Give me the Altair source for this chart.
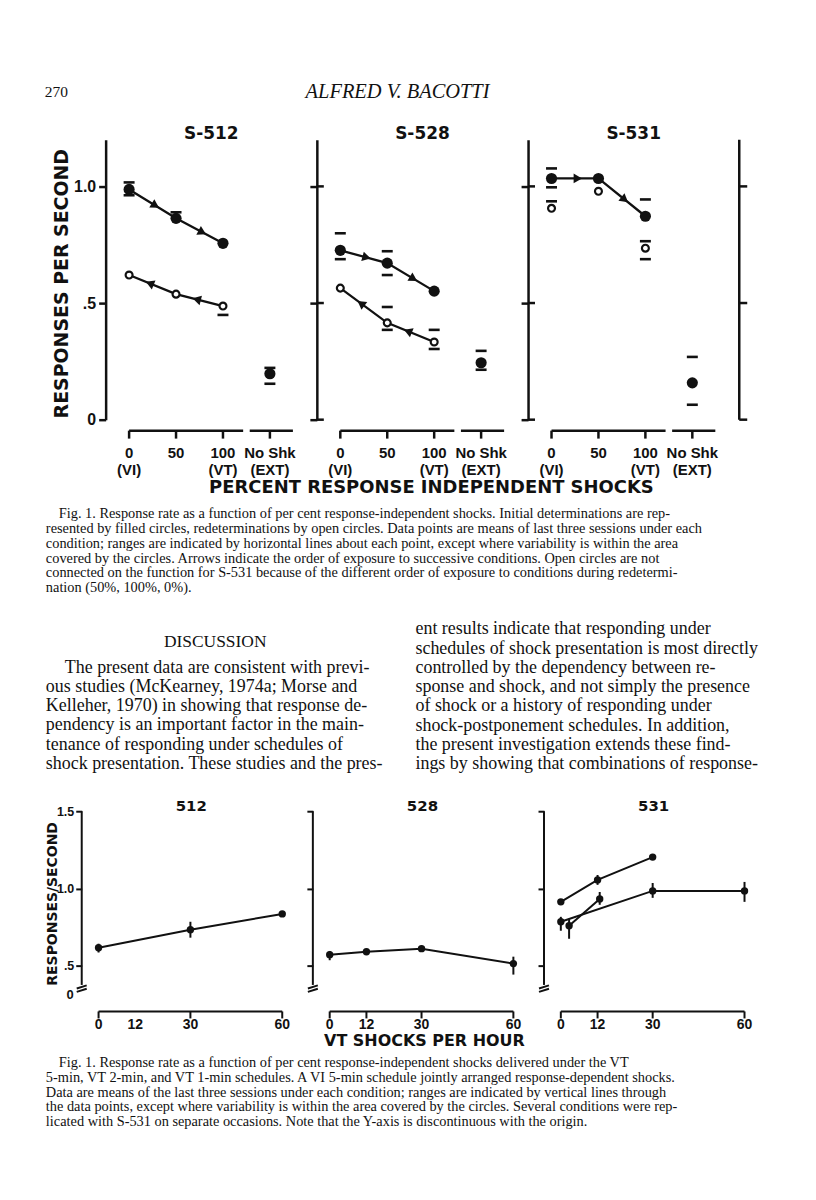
import math
import altair as alt
import pandas as pd

# ---------------- Figure 1 data (responses per second) ----------------
conditions = ["0", "50", "100", "No Shk"]
condition_sub = ["(VI)", "", "(VT)", "(EXT)"]
subjects1 = ["S-512", "S-528", "S-531"]

s512_filled = [0.987, 0.863, 0.756, 0.197]
s512_filled_hi = [1.017, 0.889, None, 0.222]
s512_filled_lo = [0.962, None, None, 0.154]
s512_open = [0.620, 0.538, 0.487, None]
s512_open_hi = [None, None, None, None]
s512_open_lo = [None, None, 0.449, None]

s528_filled = [0.726, 0.671, 0.551, 0.244]
s528_filled_hi = [0.799, 0.722, None, 0.295]
s528_filled_lo = [0.688, 0.620, None, 0.214]
s528_open = [0.564, 0.415, 0.333, None]
s528_open_hi = [None, 0.483, 0.385, None]
s528_open_lo = [None, 0.385, 0.303, None]

s531_filled = [1.034, 1.034, 0.872, 0.158]
s531_filled_hi = [1.077, None, 0.944, 0.269]
s531_filled_lo = [0.996, None, None, 0.064]
s531_open = [0.906, 0.979, 0.735, None]
s531_open_hi = [0.936, None, 0.765, None]
s531_open_lo = [None, None, 0.688, None]

fig1_ticks = [0, 0.5, 1.0]

# ---------------- Figure 2 data (responses/second vs VT shocks per hour) ----------------
subjects2 = ["512", "528", "531"]
shock_ticks_512 = [0, 30, 60]
shock_ticks = [0, 12, 30, 60]
shock_labels = ["0", "12", "30", "60"]

r512_x = [0, 30, 60]
r512_y = [0.616, 0.732, 0.835]
r512_lo = [0.585, 0.681, None]
r512_hi = [0.642, 0.784, None]

r528_x = [0, 12, 30, 60]
r528_y = [0.571, 0.590, 0.610, 0.513]
r528_lo = [0.535, None, None, 0.442]
r528_hi = [0.595, None, 0.635, 0.558]

r531a_x = [0, 12, 30]
r531a_y = [0.913, 1.055, 1.203]
r531a_lo = [None, 1.023, None]
r531a_hi = [None, 1.087, None]

r531b_x = [0, 30, 60]
r531b_y = [0.784, 0.984, 0.984]
r531b_lo = [0.726, 0.939, 0.913]
r531b_hi = [0.816, 1.035, 1.042]

r531c_x = [2.7, 12.7]
r531c_y = [0.758, 0.932]
r531c_lo = [0.674, 0.894]
r531c_hi = [0.803, 0.977]

fig2_ticks = [0.5, 1.0, 1.5]

# ---------------- page text ----------------
header_page = "270"
header_author = "ALFRED V. BACOTTI"
fig1_xtitle = "PERCENT RESPONSE INDEPENDENT SHOCKS"
fig1_ytitle = "RESPONSES PER SECOND"
fig2_xtitle = "VT  SHOCKS PER HOUR"
fig2_ytitle = "RESPONSES/SECOND"

caption1 = [
    "Fig. 1. Response rate as a function of per cent response-independent shocks. Initial determinations are rep-",
    "resented by filled circles, redeterminations by open circles. Data points are means of last three sessions under each",
    "condition; ranges are indicated by horizontal lines about each point, except where variability is within the area",
    "covered by the circles. Arrows indicate the order of exposure to successive conditions. Open circles are not",
    "connected on the function for S-531 because of the different order of exposure to conditions during redetermi-",
    "nation (50%, 100%, 0%).",
]
discussion_head = "DISCUSSION"
body_left = [
    "The present data are consistent with previ-",
    "ous studies (McKearney, 1974a; Morse and",
    "Kelleher, 1970) in showing that response de-",
    "pendency is an important factor in the main-",
    "tenance of responding under schedules of",
    "shock presentation. These studies and the pres-",
]
body_right = [
    "ent results indicate that responding under",
    "schedules of shock presentation is most directly",
    "controlled by the dependency between re-",
    "sponse and shock, and not simply the presence",
    "of shock or a history of responding under",
    "shock-postponement schedules. In addition,",
    "the present investigation extends these find-",
    "ings by showing that combinations of response-",
]
caption2 = [
    "Fig. 1. Response rate as a function of per cent response-independent shocks delivered under the VT",
    "5-min, VT 2-min, and VT 1-min schedules. A VI 5-min schedule jointly arranged response-dependent shocks.",
    "Data are means of the last three sessions under each condition; ranges are indicated by vertical lines through",
    "the data points, except where variability is within the area covered by the circles. Several conditions were rep-",
    "licated with S-531 on separate occasions. Note that the Y-axis is discontinuous with the origin.",
]

SERIF = "Liberation Serif"
SANS = "DejaVu Sans"
LSANS = "Liberation Sans"
INK = "#111111"

# ---------------- helpers ----------------
def pts(xs, ys):
    return pd.DataFrame([{"x": a, "y": b} for a, b in zip(xs, ys) if b is not None])


def one_row():
    return pd.DataFrame({"a": [0]})


def text_block(lines, x0, y0, lead, indent_first=0, align="left", **style):
    xs = [x0 + (indent_first if i == 0 else 0) for i in range(len(lines))]
    ys = [y0 + i * lead for i in range(len(lines))]
    df = pd.DataFrame({"t": lines, "px": xs, "py": ys})
    return alt.Chart(df).mark_text(align=align, baseline="middle", color=INK, **style).encode(
        x=alt.X("px:Q", scale=None, axis=None),
        y=alt.Y("py:Q", scale=None, axis=None),
        text="t:N",
    )


def spacer(w, h):
    return alt.Chart(one_row()).mark_point(opacity=0).encode(
        x=alt.value(0), y=alt.value(0)).properties(width=w, height=h)


# ---------------- Figure 1 panels ----------------
W1, H1 = 212, 281
XD1 = [-0.5, 4.0]
YD1 = [0, 1.2]
XS1 = alt.Scale(domain=XD1, nice=False, zero=False)
YS1 = alt.Scale(domain=YD1, nice=False, zero=False)
PX1 = W1 / (XD1[1] - XD1[0])
PY1 = H1 / (YD1[1] - YD1[0])
LW1 = 2.5


def y_enc1(labels):
    ax = alt.Axis(values=fig1_ticks, labels=labels, grid=False, title=None,
                  labelExpr="datum.value == 1 ? '1.0' : (datum.value == 0.5 ? '.5' : '0')",
                  tickSize=7, tickWidth=LW1, tickColor=INK, domainWidth=LW1, domainColor=INK,
                  labelFont=LSANS, labelFontSize=16, labelFontWeight="bold", labelColor=INK,
                  labelPadding=3)
    return alt.Y("y:Q", scale=YS1, axis=ax)


def x_enc1():
    return alt.X("x:Q", scale=XS1, axis=None)


def arrow_rows(xs, ys, reverse):
    rows = []
    seq = list(zip(xs, ys))
    if reverse:
        seq = seq[::-1]
    for (x0, y0), (x1, y1) in zip(seq[:-1], seq[1:]):
        f = 0.56
        dx = (x1 - x0) * PX1
        dy = -(y1 - y0) * PY1
        ang = math.degrees(math.atan2(dy, dx)) % 360
        rows.append({"x": x0 + f * (x1 - x0), "y": y0 + f * (y1 - y0), "ang": ang})
    return pd.DataFrame(rows)


def fig1_panel(title, filled, f_hi, f_lo, opn, o_hi, o_lo, connect_open, left_labels,
               inner_ticks, right_line):
    idx = list(range(len(conditions)))
    Y = y_enc1(left_labels)
    X = x_enc1()
    layers = []

    # connecting lines with arrowheads (order of exposure)
    layers.append(alt.Chart(pts(idx[:3], filled[:3])).mark_line(color=INK, strokeWidth=2.3)
                  .encode(x=X, y=Y))
    layers.append(alt.Chart(arrow_rows(idx[:3], filled[:3], False))
                  .mark_point(shape="triangle-right", filled=True, color=INK, size=95, opacity=1)
                  .encode(x=X, y=Y, angle=alt.Angle("ang:Q", scale=None)))
    if connect_open:
        layers.append(alt.Chart(pts(idx[:3], opn[:3])).mark_line(color=INK, strokeWidth=2.3)
                      .encode(x=X, y=Y))
        layers.append(alt.Chart(arrow_rows(idx[:3], opn[:3], True))
                      .mark_point(shape="triangle-right", filled=True, color=INK, size=95, opacity=1)
                      .encode(x=X, y=Y, angle=alt.Angle("ang:Q", scale=None)))

    # range bars
    bx, by = [], []
    for arr in (f_hi, f_lo, o_hi, o_lo):
        for i, v in enumerate(arr):
            if v is not None:
                bx.append(i)
                by.append(v)
    layers.append(alt.Chart(pts(bx, by)).mark_tick(orient="horizontal", size=11, thickness=2.6,
                                                   color=INK, opacity=1)
                  .encode(x=X, y=Y))

    # points
    layers.append(alt.Chart(pts(idx, opn)).mark_point(shape="circle", filled=True, fill="white",
                                                      stroke=INK, strokeWidth=2.2, size=48, opacity=1)
                  .encode(x=X, y=Y))
    layers.append(alt.Chart(pts(idx, filled)).mark_point(shape="circle", filled=True, color=INK,
                                                         size=125, opacity=1)
                  .encode(x=X, y=Y))

    # broken x axis
    segs = pd.DataFrame({"x": [0, 2.57], "x2": [2.43, 3.49]})
    layers.append(alt.Chart(segs).mark_rule(color=INK, strokeWidth=LW1)
                  .encode(x=X, x2="x2:Q", y=alt.value(H1 + 11)))
    layers.append(alt.Chart(pd.DataFrame({"x": idx})).mark_rule(color=INK, strokeWidth=LW1)
                  .encode(x=X, y=alt.value(H1 + 11), y2=alt.value(H1 + 19)))
    lab = pd.DataFrame({"x": idx, "t": conditions, "s": condition_sub})
    layers.append(alt.Chart(lab).mark_text(font=LSANS, fontSize=15, fontWeight="bold", color=INK,
                                           baseline="middle")
                  .encode(x=X, y=alt.value(H1 + 33), text="t:N"))
    layers.append(alt.Chart(lab).mark_text(font=LSANS, fontSize=15, fontWeight="bold", color=INK,
                                           baseline="middle")
                  .encode(x=X, y=alt.value(H1 + 51), text="s:N"))

    # y axis decorations
    yt = pd.DataFrame({"y": fig1_ticks})
    if inner_ticks:
        layers.append(alt.Chart(yt).mark_rule(color=INK, strokeWidth=LW1)
                      .encode(y=Y, x=alt.value(0), x2=alt.value(7)))
    if right_line:
        layers.append(alt.Chart(pd.DataFrame({"y": [YD1[0]], "y2": [YD1[1]]}))
                      .mark_rule(color=INK, strokeWidth=LW1)
                      .encode(x=alt.value(W1), y=Y, y2="y2:Q"))
        layers.append(alt.Chart(yt).mark_rule(color=INK, strokeWidth=LW1)
                      .encode(y=Y, x=alt.value(W1), x2=alt.value(W1 + 8)))

    # titles
    layers.append(alt.Chart(pd.DataFrame({"t": [title]})).mark_text(
        font=SANS, fontSize=17, fontWeight="bold", color=INK, baseline="middle")
        .encode(x=alt.value(W1 / 2), y=alt.value(-6), text="t:N"))
    if left_labels:
        layers.append(alt.Chart(pd.DataFrame({"t": [fig1_ytitle]})).mark_text(
            font=SANS, fontSize=19, fontWeight="bold", color=INK, angle=270, baseline="middle")
            .encode(x=alt.value(-44), y=alt.value(H1 / 2 + 4), text="t:N"))

    return alt.layer(*layers).properties(width=W1, height=H1)


p1 = fig1_panel(subjects1[0], s512_filled, s512_filled_hi, s512_filled_lo, s512_open,
                s512_open_hi, s512_open_lo, True, True, False, False)
p2 = fig1_panel(subjects1[1], s528_filled, s528_filled_hi, s528_filled_lo, s528_open,
                s528_open_hi, s528_open_lo, True, False, True, False)
p3 = fig1_panel(subjects1[2], s531_filled, s531_filled_hi, s531_filled_lo, s531_open,
                s531_open_hi, s531_open_lo, False, False, True, True)

fig1 = alt.hconcat(spacer(95, H1), p1, p2, p3, spacing=0, bounds="flush").resolve_scale(
    x="independent", y="independent")

# ---------------- Figure 2 panels ----------------
W2, H2 = 232, 186
XD2 = [-5.5, 70]
YD2 = [0.3, 1.5]
XS2 = alt.Scale(domain=XD2, nice=False, zero=False)
YS2 = alt.Scale(domain=YD2, nice=False, zero=False)
LW2 = 2.0


def y_enc2(labels):
    ax = alt.Axis(values=fig2_ticks, labels=labels, grid=False, title=None, domain=False,
                  labelExpr="datum.value == 1.5 ? '1.5' : (datum.value == 1 ? '1.0' : '.5')",
                  tickSize=6, tickWidth=LW2, tickColor=INK,
                  labelFont=LSANS, labelFontSize=12.5, labelFontWeight="bold", labelColor=INK,
                  labelPadding=2)
    return alt.Y("y:Q", scale=YS2, axis=ax)


def fig2_panel(title, series, tick_vals, left_labels, show_xtitle):
    X = alt.X("x:Q", scale=XS2, axis=None)
    Y = y_enc2(left_labels)
    layers = []
    # y axis line with break
    layers.append(alt.Chart(pd.DataFrame({"y": [0.375], "y2": [1.5]})).mark_rule(color=INK, strokeWidth=LW2)
                  .encode(x=alt.value(0), y=Y, y2="y2:Q"))
    brk = pd.DataFrame({"y": [0.330, 0.352], "y2": [0.350, 0.372]})
    layers.append(alt.Chart(brk).mark_rule(color=INK, strokeWidth=LW2)
                  .encode(x=alt.value(-5), x2=alt.value(5), y=Y, y2="y2:Q"))
    if left_labels:
        layers.append(alt.Chart(pd.DataFrame({"t": ["0"], "y": [0.31]})).mark_text(
            font=LSANS, fontSize=13, fontWeight="bold", color=INK, baseline="middle", align="right")
            .encode(x=alt.value(-8), y=Y, text="t:N"))
        layers.append(alt.Chart(pd.DataFrame({"t": [fig2_ytitle]})).mark_text(
            font=SANS, fontSize=14, fontWeight="bold", color=INK, angle=270, baseline="middle")
            .encode(x=alt.value(-29), y=alt.value(H2 / 2), text="t:N"))

    for k, (xs, ys, lo, hi) in enumerate(series):
        layers.append(alt.Chart(pts(xs, ys)).mark_line(color=INK, strokeWidth=LW2).encode(x=X, y=Y))
        rr = pd.DataFrame([{"x": a, "y": l, "y2": h} for a, l, h in zip(xs, lo, hi) if l is not None])
        if len(rr):
            layers.append(alt.Chart(rr).mark_rule(color=INK, strokeWidth=LW2)
                          .encode(x=X, y=Y, y2="y2:Q"))
        layers.append(alt.Chart(pts(xs, ys)).mark_point(shape="circle", filled=True, color=INK,
                                                        size=55, opacity=1).encode(x=X, y=Y))

    # x axis
    layers.append(alt.Chart(pd.DataFrame({"x": [0], "x2": [60]})).mark_rule(color=INK, strokeWidth=LW2)
                  .encode(x=X, x2="x2:Q", y=alt.value(H2 + 15)))
    layers.append(alt.Chart(pd.DataFrame({"x": tick_vals})).mark_rule(color=INK, strokeWidth=LW2)
                  .encode(x=X, y=alt.value(H2 + 15), y2=alt.value(H2 + 22)))
    layers.append(alt.Chart(pd.DataFrame({"x": shock_ticks, "t": shock_labels})).mark_text(
        font=LSANS, fontSize=14, fontWeight="bold", color=INK, baseline="middle")
        .encode(x=X, y=alt.value(H2 + 29), text="t:N"))
    if show_xtitle:
        layers.append(alt.Chart(pd.DataFrame({"t": [fig2_xtitle]})).mark_text(
            font=SANS, fontSize=16, fontWeight="bold", color=INK, baseline="middle")
            .encode(x=alt.value(112), y=alt.value(H2 + 45), text="t:N"))
    layers.append(alt.Chart(pd.DataFrame({"t": [title]})).mark_text(
        font=SANS, fontSize=15, fontWeight="bold", color=INK, baseline="middle")
        .encode(x=alt.value(110), y=alt.value(-5), text="t:N"))
    return alt.layer(*layers).properties(width=W2, height=H2)


q1 = fig2_panel(subjects2[0], [(r512_x, r512_y, r512_lo, r512_hi)], shock_ticks_512, True, False)
q2 = fig2_panel(subjects2[1], [(r528_x, r528_y, r528_lo, r528_hi)], shock_ticks, False, True)
q3 = fig2_panel(subjects2[2], [(r531a_x, r531a_y, r531a_lo, r531a_hi),
                               (r531b_x, r531b_y, r531b_lo, r531b_hi),
                               (r531c_x, r531c_y, r531c_lo, r531c_hi)], shock_ticks, False, False)

fig2 = alt.hconcat(spacer(71, H2), q1, q2, q3, spacing=0, bounds="flush").resolve_scale(
    x="independent", y="independent")

# ---------------- text rows ----------------
# (with flush bounds the nested figure rows take no vertical room of their own,
#  so each text row below starts where the figure above it starts)
PAGE_W = 800
header = alt.layer(
    text_block([header_page], 34, 82, 0, font=SERIF, fontSize=15.5),
    text_block([header_author], 388, 82, 0, align="center", font=SERIF, fontSize=20.5, fontStyle="italic"),
).properties(width=PAGE_W, height=130)

M0 = 138  # page y where figure 1 (and this row) starts
middle = alt.layer(
    text_block([fig1_xtitle], 422, 488 - M0, 0, align="center", font=SANS, fontSize=18, fontWeight="bold"),
    text_block(caption1, 35, 514 - M0, 14.8, indent_first=13, font=SERIF, fontSize=14.4),
    text_block([discussion_head], 205, 642 - M0, 0, align="center", font=SERIF, fontSize=17.5),
    text_block(body_left, 35, 668 - M0, 19.3, indent_first=19, font=SERIF, fontSize=18),
    text_block(body_right, 406, 629.5 - M0, 19.3, font=SERIF, fontSize=18),
).properties(width=PAGE_W, height=812 - M0)

B0 = 812  # page y where figure 2 (and this row) starts
bottom = alt.layer(
    text_block(caption2, 35, 1065 - B0, 14.7, indent_first=13, font=SERIF, fontSize=14.4),
).properties(width=PAGE_W, height=1192 - B0)

chart = alt.vconcat(header, fig1, middle, fig2, bottom, spacing=0, bounds="flush", padding=0).resolve_scale(
    x="independent", y="independent").configure_view(strokeWidth=0)

chart.save("out.html", embed_options={"renderer": "svg", "actions": False})
